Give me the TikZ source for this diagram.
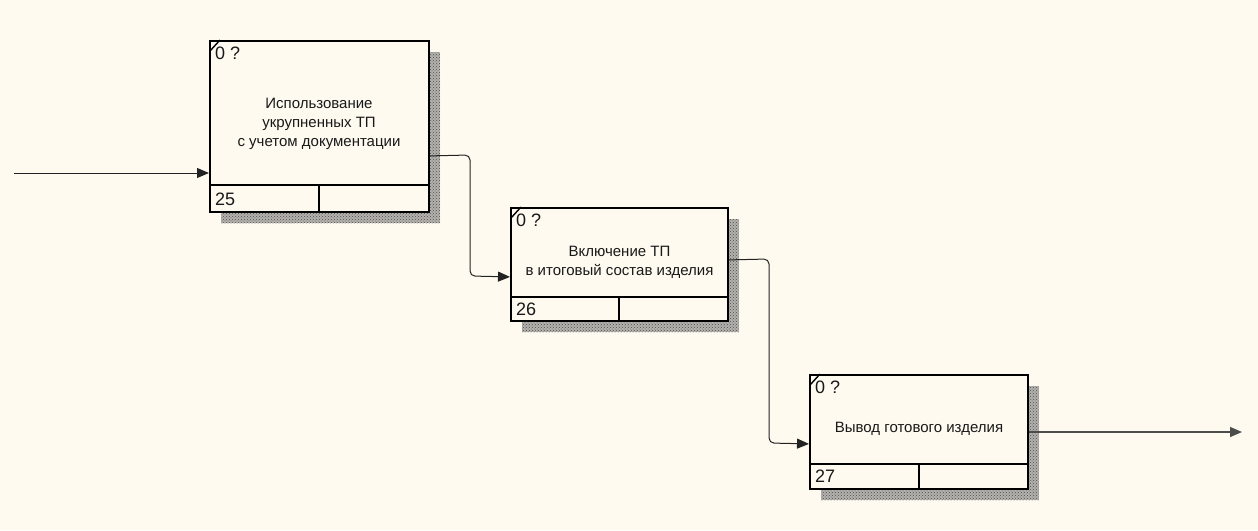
\documentclass[tikz,border=0pt]{standalone}
\usepackage{fontspec}
\setmainfont{Liberation Sans}
\usetikzlibrary{arrows.meta,calc,patterns}
\definecolor{bgc}{HTML}{FFFAF0}
\definecolor{shd}{HTML}{B4B2AE}
\definecolor{lnc}{HTML}{222222}
\tikzset{
  abox/.style={draw=black,line width=1.8pt,fill=bgc,minimum width=219pt,anchor=north west,inner sep=0pt},
  shadowbox/.style={pattern=crosshatch dots,pattern color=black!70},
  conn/.style={draw=lnc,line width=1pt,rounded corners=5pt,-{Triangle[length=12pt,width=10pt]}},
  lbl/.style={font=\fontsize{15}{19}\selectfont,align=center,text=black!90},
  num/.style={font=\fontsize{18}{18}\selectfont,anchor=west,inner sep=0pt,text=black!90}
}
\begin{document}
\begin{tikzpicture}[x=1pt,y=-1pt]
\fill[bgc] (0,0) rectangle (1258,530);
\useasboundingbox (0,0) rectangle (1258,530);
% shadows
\fill[fill=shd] (221,52) rectangle (440,223);
\fill[shadowbox] (221,52) rectangle (440,223);
\fill[fill=shd] (522,219) rectangle (739,332);
\fill[shadowbox] (522,219) rectangle (739,332);
\fill[fill=shd] (821,386) rectangle (1039,500);
\fill[shadowbox] (821,386) rectangle (1039,500);
% boxes
\node[abox,minimum height=171pt] (b1) at (209,40) {};
\node[abox,minimum width=217pt,minimum height=113pt] (b2) at (510,207) {};
\node[abox,minimum width=218pt,minimum height=114pt] (b3) at (809,374) {};
% separators
\draw[line width=1.6pt] (b1.west |- 0,185) -- (b1.east |- 0,185);
\draw[line width=1.6pt] (319,185) -- (319,211);
\draw[line width=1.6pt] (b2.west |- 0,297) -- (b2.east |- 0,297);
\draw[line width=1.6pt] (619,297) -- (619,320);
\draw[line width=1.6pt] (b3.west |- 0,464) -- (b3.east |- 0,464);
\draw[line width=1.6pt] (919,464) -- (919,488);
% corner marks
\draw[line width=1.4pt] (210,51) -- (220,40);
\draw[line width=1.4pt] (511,218) -- (521,207);
\draw[line width=1.4pt] (810,385) -- (820,374);
% labels
\node[num] (t1) at (215,53) {0 ?};
\node[num] (t2) at (516,220) {0 ?};
\node[num] (t3) at (815,387) {0 ?};
\node[num] (n1) at (215,199) {25};
\node[num] (n2) at (516,309) {26};
\node[num] (n3) at (815,476) {27};
\node[lbl] (l1) at (319,124) {Использование\\укрупненных ТП\\с учетом документации};
\node[lbl] (l2) at (619.5,262.5) {Включение ТП\\в итоговый состав изделия};
\node[lbl] (l3) at (919,429) {Вывод готового изделия};
% connectors
\coordinate (in1) at (14,173);
\coordinate (out3) at (1242,432);
\draw[conn] (in1) -- (in1 -| b1.west);
\draw[conn] ([yshift=-29.5pt]b1.east) -- (470,155) -- (470,276) -- ([yshift=-12.5pt]b2.west);
\draw[conn] ([yshift=4.5pt]b2.east) -- (769,259) -- (769,443) -- ([yshift=-12pt]b3.west);
\draw[conn,draw=black!70,line width=1.3pt] (out3 -| b3.east) -- (out3);
\end{tikzpicture}
\end{document}
